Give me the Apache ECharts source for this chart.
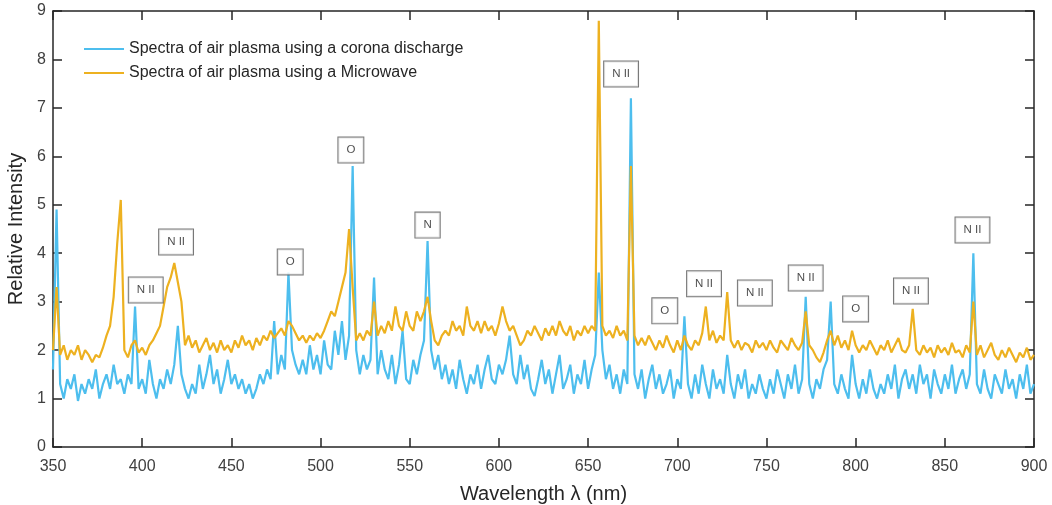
<!DOCTYPE html>
<html>
<head>
<meta charset="utf-8">
<script src="https://cdn.jsdelivr.net/npm/echarts@6/dist/echarts.min.js"></script>
<style>
html,body{margin:0;padding:0;background:#fff;}
#chart{width:1052px;height:505px;}
</style>
</head>
<body>
<div id="chart"></div>
<script>
// Wavelength sampling grid (nm): first value and spacing
const wavelengthStart = 350;
const wavelengthStep = 2;

// Relative intensity, corona discharge (blue), one value every 2 nm from 350 to 900 nm
const coronaValues = [
  1.6, 4.9, 1.3, 1.0, 1.4, 1.2, 1.5, 0.95, 1.3, 1.1,
  1.4, 1.2, 1.6, 1.0, 1.3, 1.5, 1.2, 1.7, 1.3, 1.4,
  1.1, 1.5, 1.3, 2.9, 1.2, 1.4, 1.1, 1.8, 1.3, 1.0,
  1.4, 1.2, 1.6, 1.3, 1.7, 2.5, 1.5, 1.2, 1.0, 1.3,
  1.1, 1.7, 1.2, 1.5, 1.9, 1.3, 1.6, 1.1, 1.4, 1.8,
  1.3, 1.5, 1.2, 1.4, 1.1, 1.3, 1.0, 1.2, 1.5, 1.3,
  1.6, 1.4, 2.6, 1.5, 1.9, 1.6, 3.6, 2.0, 1.7, 1.5,
  1.8, 1.5, 2.1, 1.6, 1.9, 1.5, 2.2, 1.7, 1.6, 2.4,
  1.9, 2.6, 1.8, 2.3, 5.8, 2.0, 1.5, 1.9, 1.6, 1.8,
  3.5, 1.5, 2.0, 1.6, 1.4, 1.9, 1.3, 1.7, 2.4, 1.4,
  1.3, 1.8, 1.5, 1.9, 2.2, 4.25, 2.0, 1.6, 1.9, 1.4,
  1.7, 1.3, 1.6, 1.2, 1.8, 1.4, 1.1, 1.5, 1.3, 1.7,
  1.2, 1.6, 1.9, 1.4, 1.3, 1.7, 1.5, 1.8, 2.3, 1.5,
  1.3, 1.9, 1.4, 1.7, 1.2, 1.05, 1.4, 1.8, 1.3, 1.6,
  1.1, 1.5, 1.9, 1.2, 1.4, 1.7, 1.1, 1.5, 1.3, 1.8,
  1.2, 1.6, 1.9, 3.6, 2.0, 1.4, 1.7, 1.2, 1.5, 1.1,
  1.6, 1.3, 7.2, 1.5, 1.2, 1.6, 1.0, 1.4, 1.7, 1.2,
  1.5, 1.1, 1.3, 1.6, 1.0, 1.4, 1.2, 2.7, 1.3, 1.0,
  1.5, 1.1, 1.7, 1.3, 1.0, 1.6, 1.2, 1.4, 1.1, 1.9,
  1.3, 1.0, 1.5, 1.2, 1.6, 1.0, 1.3, 1.1, 1.5, 1.2,
  1.0, 1.4, 1.1, 1.6, 1.3, 1.0, 1.5, 1.2, 1.7, 1.1,
  1.4, 3.1, 1.3, 1.0, 1.4, 1.2, 1.6, 1.8, 3.0, 1.3,
  1.1, 1.5, 1.2, 1.0, 1.9, 1.3, 1.0, 1.4, 1.1, 1.6,
  1.2, 1.0, 1.3, 1.1, 1.5, 1.2, 1.7, 1.0, 1.4, 1.6,
  1.2, 1.5, 1.1, 1.7, 1.3, 1.5, 1.0, 1.6, 1.3, 1.1,
  1.5, 1.2, 1.7, 1.1, 1.4, 1.6, 1.2, 1.5, 4.0, 1.3,
  1.1, 1.6, 1.2, 1.0, 1.5, 1.3, 1.1, 1.6, 1.2, 1.4,
  1.0, 1.5, 1.2, 1.7, 1.1, 1.3
];

// Relative intensity, microwave plasma (orange), same grid
const microwaveValues = [
  2.0, 3.3, 1.9, 2.1, 1.8, 2.0, 1.9, 2.1, 1.8, 2.0,
  1.9, 1.75, 1.9, 1.85, 2.05, 2.3, 2.5, 3.1, 4.2, 5.1,
  2.0, 1.85, 2.1, 2.2, 1.95, 2.05, 1.9, 2.1, 2.2, 2.35,
  2.5, 2.9, 3.3, 3.5, 3.8, 3.4, 3.0, 2.1, 2.3, 2.05,
  2.2, 1.95, 2.1, 2.25, 2.0, 2.15, 1.95, 2.2, 2.0, 2.1,
  1.95, 2.2, 2.05, 2.3, 2.1, 2.2, 2.0, 2.25, 2.1, 2.3,
  2.2, 2.4, 2.25, 2.35, 2.45, 2.3, 2.6, 2.5, 2.35, 2.2,
  2.3, 2.15, 2.3, 2.2, 2.35, 2.25, 2.4, 2.6, 2.8, 2.7,
  3.0, 3.3, 3.6, 4.5, 3.3, 2.2, 2.35, 2.2, 2.4, 2.3,
  3.0, 2.3, 2.5, 2.35, 2.6, 2.4, 2.9, 2.5, 2.4, 2.8,
  2.5, 2.4, 2.8, 2.6, 2.8, 3.1, 2.6, 2.2, 2.1, 2.3,
  2.4, 2.3, 2.6, 2.4, 2.5, 2.3, 2.9, 2.5, 2.4, 2.6,
  2.35, 2.6, 2.4, 2.5, 2.3, 2.55, 2.9, 2.6, 2.4, 2.5,
  2.3, 2.1, 2.2, 2.4, 2.3, 2.5, 2.35, 2.2, 2.45, 2.3,
  2.5, 2.3, 2.6, 2.4, 2.3, 2.5, 2.2, 2.4, 2.3, 2.5,
  2.35, 2.5, 2.4, 8.8, 2.5, 2.3, 2.4, 2.25, 2.5, 2.3,
  2.4, 2.2, 5.8, 2.3, 2.1, 2.25, 2.1, 2.3, 2.15, 2.0,
  2.2, 2.05, 2.3, 2.1, 1.95, 2.2, 2.0, 2.3, 2.1, 2.0,
  2.2, 2.1, 2.35, 2.9, 2.2, 2.4, 2.15, 2.3, 2.2, 3.2,
  2.2, 2.05, 2.2, 2.0, 2.15, 2.1, 1.95, 2.2, 2.05, 2.15,
  2.0, 2.2, 2.05, 1.95, 2.2, 2.1, 2.0, 2.25, 2.1, 2.0,
  2.15, 2.8, 2.1, 2.0, 1.85, 1.75, 1.95, 2.2, 2.4, 2.1,
  2.3, 2.05, 2.2, 2.0, 2.4, 2.1, 1.95, 2.1, 2.0, 2.2,
  2.05, 1.9, 2.1, 2.0, 2.2, 1.95, 2.1, 2.25, 2.0, 1.95,
  2.1, 2.85, 2.0, 1.9, 2.1, 1.95, 2.05, 1.85, 2.1, 1.95,
  2.05, 1.9, 2.15, 1.95, 2.0, 1.85, 2.1, 1.95, 3.0, 1.9,
  2.1, 1.85, 2.0, 2.15, 1.9, 1.8, 2.0, 1.85, 2.05, 1.9,
  1.75, 1.95, 1.85, 2.05, 1.8, 1.9
];

// Line identifications: label text, wavelength (nm) and intensity where the box sits
const annotationTexts = ['N II', 'N II', 'O', 'O', 'N', 'N II', 'O', 'N II', 'N II', 'N II', 'O', 'N II', 'N II'];
const annotationWavelengths = [402, 419, 483, 517, 560, 668.5, 693, 715, 743.5, 772, 800, 831, 865.5];
const annotationIntensities = [3.24, 4.23, 3.82, 6.13, 4.58, 7.7, 2.81, 3.37, 3.18, 3.49, 2.85, 3.22, 4.48];

const xTicks = { min: 350, max: 900, interval: 50 };
const yTicks = { min: 0, max: 9, interval: 1 };

const seriesNames = [
  'Spectra of air plasma using a corona discharge',
  'Spectra of air plasma using a Microwave'
];

function toPairs(values) {
  return values.map((v, i) => [wavelengthStart + i * wavelengthStep, v]);
}

const chart = echarts.init(document.getElementById('chart'), null, { renderer: 'canvas' });
const axisColor = '#262626';
const fontFamily = '"Liberation Sans", Arial, Helvetica, sans-serif';

const baseX = {
  type: 'value', min: xTicks.min, max: xTicks.max, interval: xTicks.interval,
  axisLine: { show: true, onZero: false, lineStyle: { color: axisColor, width: 1.5 } },
  axisTick: { show: true, inside: true, length: 9, lineStyle: { color: axisColor, width: 1.5 } },
  splitLine: { show: false }
};
const baseY = {
  type: 'value', min: yTicks.min, max: yTicks.max, interval: yTicks.interval,
  axisLine: { show: true, onZero: false, lineStyle: { color: axisColor, width: 1.5 } },
  axisTick: { show: true, inside: true, length: 9, lineStyle: { color: axisColor, width: 1.5 } },
  splitLine: { show: false }
};

const option = {
  backgroundColor: '#ffffff',
  animation: false,
  textStyle: { fontFamily: fontFamily },
  grid: { left: 53, right: 18, top: 11, bottom: 58, containLabel: false, outerBoundsMode: 'none' },
  legend: {
    orient: 'vertical', left: 79, top: 36, itemGap: 8,
    itemWidth: 40, itemHeight: 2, icon: 'rect',
    textStyle: { fontSize: 16, color: '#262626', fontFamily: fontFamily },
    data: seriesNames
  },
  xAxis: [
    Object.assign({}, baseX, {
      position: 'bottom',
      name: 'Wavelength \u03bb (nm)', nameLocation: 'middle', nameGap: 37,
      nameTextStyle: { fontSize: 20, color: '#262626', fontFamily: fontFamily },
      axisLabel: { show: true, fontSize: 16, color: '#404040', margin: 12, fontFamily: fontFamily }
    }),
    Object.assign({}, baseX, { position: 'top', axisLabel: { show: false } })
  ],
  yAxis: [
    Object.assign({}, baseY, {
      position: 'left',
      name: 'Relative Intensity', nameLocation: 'middle', nameGap: 22,
      nameTextStyle: { fontSize: 20, color: '#262626', fontFamily: fontFamily },
      axisLabel: { show: true, fontSize: 16, color: '#404040', margin: 7, fontFamily: fontFamily }
    }),
    Object.assign({}, baseY, { position: 'right', axisLabel: { show: false } })
  ],
  series: [
    {
      name: seriesNames[0], type: 'line', xAxisIndex: 0, yAxisIndex: 0,
      data: toPairs(coronaValues), showSymbol: false, symbol: 'none',
      lineStyle: { color: '#4DBEEE', width: 2.2 }, itemStyle: { color: '#4DBEEE' }, z: 2
    },
    {
      name: seriesNames[1], type: 'line', xAxisIndex: 0, yAxisIndex: 0,
      data: toPairs(microwaveValues), showSymbol: false, symbol: 'none',
      lineStyle: { color: '#EDB120', width: 2.2 }, itemStyle: { color: '#EDB120' }, z: 3
    },
    {
      name: 'labels', type: 'scatter', xAxisIndex: 0, yAxisIndex: 0,
      symbolSize: 0, z: 10, silent: true,
      data: annotationTexts.map((t, i) => ({ value: [annotationWavelengths[i], annotationIntensities[i]], name: t })),
      label: {
        show: true, position: 'inside', formatter: p => p.name,
        fontSize: 11.5, color: '#222', fontFamily: fontFamily,
        backgroundColor: '#ffffff', borderColor: '#555', borderWidth: 1,
        padding: [7, 8, 6, 8]
      }
    }
  ]
};
chart.setOption(option);
</script>
</body>
</html>
